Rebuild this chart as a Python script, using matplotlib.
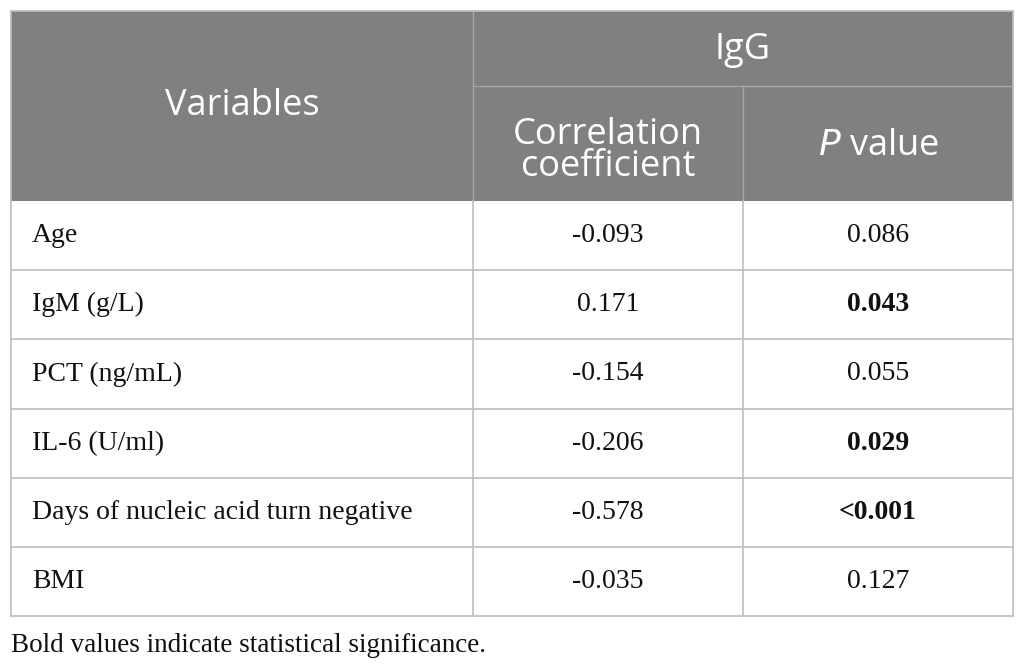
import matplotlib.pyplot as plt
from matplotlib.patches import Rectangle

variables = ["Age", "IgM (g/L)", "PCT (ng/mL)", "IL-6 (U/ml)",
             "Days of nucleic acid turn negative", "BMI"]
corr = ["-0.093", "0.171", "-0.154", "-0.206", "-0.578", "-0.035"]
pvals = ["0.086", "0.043", "0.055", "0.029", "<0.001", "0.127"]
significant = [False, True, False, True, True, False]
caption = "Bold values indicate statistical significance."

W, H = 1026, 669
fig = plt.figure(figsize=(W / 100, H / 100), dpi=100)
ax = fig.add_axes([0, 0, 1, 1])
ax.set_xlim(0, W)
ax.set_ylim(H, 0)
ax.axis("off")

# layout in pixels
x0, x1, x2, x3 = 11, 473, 743, 1013
top, mid, head_bot = 11, 86, 201
row_h = 69.2
n = len(variables)
bottom = head_bot + n * row_h

head_col = "#808080"
line_col = "#bdbdbd"
head_line = "#a6a6a6"
sans = "Open Sans"
serif = "Liberation Serif"
hsize = 26
bsize = 20

# header block
ax.add_patch(Rectangle((x0, top), x3 - x0, head_bot - top, color=head_col, lw=0))
ax.plot([x1, x1], [top, head_bot], color=head_line, lw=1)
ax.plot([x1, x3], [mid, mid], color=head_line, lw=1)
ax.plot([x2, x2], [mid, head_bot], color=head_line, lw=1)

ax.text((x0 + x1) / 2, 106, "Variables", color="white",
        fontsize=hsize, family=sans, ha="center", va="center")
ax.text((x1 + x3) / 2, 50, "IgG", color="white",
        fontsize=hsize, family=sans, ha="center", va="center")
ax.text((x1 + x2) / 2, 151, "Correlation\ncoefficient",
        color="white", fontsize=hsize, family=sans, ha="center", va="center",
        linespacing=0.88)
ax.text((x2 + x3) / 2, 146, "$\\mathit{P}$ value",
        color="white", fontsize=hsize, family=sans, ha="center", va="center")

# body rows
for i in range(n):
    yc = head_bot + (i + 0.5) * row_h
    ax.text(x0 + 21, yc, variables[i], fontsize=bsize, family=serif,
            ha="left", va="center", color="#111111")
    ax.text((x1 + x2) / 2, yc, corr[i], fontsize=bsize, family=serif,
            ha="center", va="center", color="#111111")
    ax.text((x2 + x3) / 2, yc, pvals[i], fontsize=bsize, family=serif,
            ha="center", va="center", color="#111111",
            weight="bold" if significant[i] else "normal")
    if i > 0:
        ax.plot([x0, x3], [head_bot + i * row_h] * 2, color=line_col, lw=1.2)

# borders
ax.plot([x0, x3], [bottom, bottom], color=line_col, lw=1.2)
ax.plot([x0, x0], [top, bottom], color=line_col, lw=1.2)
ax.plot([x3, x3], [top, bottom], color=line_col, lw=1.2)
ax.plot([x0, x3], [top, top], color=line_col, lw=1.2)
ax.plot([x1, x1], [head_bot, bottom], color=line_col, lw=1.2)
ax.plot([x2, x2], [head_bot, bottom], color=line_col, lw=1.2)

ax.text(x0, 646, caption, fontsize=19.5, family=serif, ha="left",
        va="center", color="#111111")

fig.savefig("out.png", dpi=100)
